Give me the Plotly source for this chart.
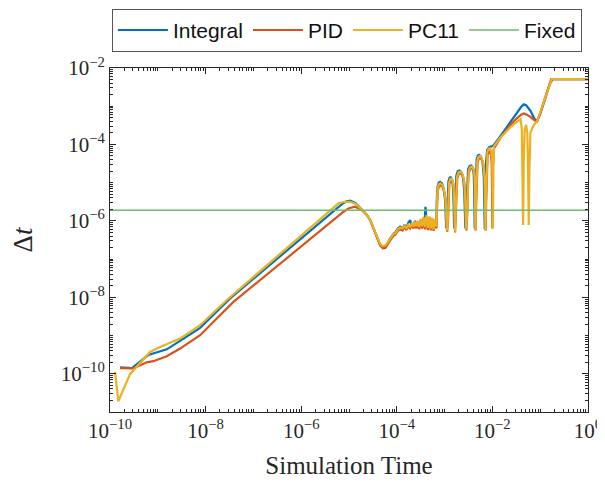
import numpy as np
import plotly.graph_objects as go

# ---- data (log10 of simulation time, log10 of step size) ----
integral_log_t = [-9.79, -9.54, -9.198, -8.813, -8.534, -8.115, -7.487, -5.148, -5.05, -4.974, -4.87, -4.764,
                  -4.655, -4.555, -4.48, -4.415, -4.35, -4.29, -4.24, -4.205, -4.14, -4.067,
                  -4.03, -3.98, -3.93, -3.88, -3.84, -3.80, -3.76, -3.72, -3.69, -3.65, -3.62, -3.59, -3.56,
                  -3.53, -3.50, -3.47, -3.44, -3.42, -3.40, -3.38, -3.35, -3.32, -3.29, -3.26, -3.23, -3.20, -3.17,
                  -3.165, -3.15, -3.125, -3.095, -3.055, -3.02, -2.99, -2.975, -2.965,
                  -2.945, -2.935, -2.92, -2.895, -2.87, -2.845, -2.825, -2.81, -2.80,
                  -2.785, -2.775, -2.755, -2.725, -2.685, -2.645, -2.615, -2.59, -2.575, -2.565,
                  -2.54, -2.53, -2.51, -2.475, -2.44, -2.41, -2.39, -2.38, -2.37,
                  -2.36, -2.35, -2.33, -2.305, -2.275, -2.24, -2.205, -2.18, -2.168, -2.16,
                  -2.15, -2.135, -2.11, -2.07, -2.02,
                  -1.973, -1.832, -1.623, -1.483, -1.40, -1.344, -1.29, -1.204,
                  -1.12, -1.064, -1.00, -0.89, -0.80, -0.74, 0.0]
integral_log_dt = [-9.83, -9.85, -9.51, -9.36, -9.14, -8.80, -8.03, -5.56, -5.49, -5.47, -5.53, -5.66,
                   -5.80, -5.98, -6.20, -6.42, -6.62, -6.69, -6.68, -6.61, -6.46, -6.34,
                   -6.30, -6.20, -6.15, -6.20, -6.10, -6.18, -6.05, -5.98, -6.12, -6.10, -6.00, -6.14, -6.02,
                   -6.15, -5.97, -6.12, -5.92, -6.05, -5.63, -6.00, -6.15, -5.90, -6.18, -5.95, -6.20, -5.97, -6.12,
                   -5.50, -5.12, -5.00, -4.98, -5.02, -5.15, -5.45, -5.90, -6.20,
                   -5.90, -5.30, -4.97, -4.87, -4.86, -4.92, -5.12, -5.60, -6.20,
                   -5.80, -5.20, -4.82, -4.70, -4.68, -4.73, -4.87, -5.20, -5.70, -6.20,
                   -5.70, -5.00, -4.65, -4.56, -4.55, -4.61, -4.78, -5.30, -6.20,
                   -5.60, -4.80, -4.39, -4.29, -4.27, -4.32, -4.47, -4.85, -5.50, -6.22,
                   -5.20, -4.50, -4.15, -4.07, -4.05,
                   -4.02, -3.78, -3.41, -3.19, -3.02, -2.95, -2.98, -3.12,
                   -3.33, -3.39, -3.20, -2.78, -2.42, -2.29, -2.29]

pid_log_t = [-9.79, -9.512, -9.231, -9.093, -8.813, -8.534, -8.115, -7.418, -5.114, -5.0, -4.869, -4.729,
             -4.62, -4.555, -4.48, -4.415, -4.35, -4.29, -4.24, -4.205, -4.14, -4.067,
             -4.03, -3.98, -3.93, -3.88, -3.84, -3.80, -3.76, -3.72, -3.68, -3.65, -3.62, -3.59, -3.56,
             -3.53, -3.50, -3.47, -3.44, -3.41, -3.38, -3.35, -3.32, -3.29, -3.26, -3.23, -3.20, -3.17,
             -3.155, -3.14, -3.115, -3.085, -3.045, -3.005, -2.975, -2.955, -2.945,
             -2.925, -2.915, -2.90, -2.875, -2.85, -2.825, -2.805, -2.79, -2.78,
             -2.765, -2.755, -2.735, -2.705, -2.665, -2.625, -2.595, -2.57, -2.555, -2.545,
             -2.52, -2.51, -2.49, -2.455, -2.42, -2.39, -2.37, -2.36, -2.35,
             -2.34, -2.33, -2.31, -2.285, -2.255, -2.22, -2.185, -2.16, -2.148, -2.14,
             -2.13, -2.12, -2.10, -2.075, -2.05, -2.03, -2.015, -2.007, -2.0, -1.99,
             -1.973, -1.832, -1.623, -1.483, -1.40, -1.344, -1.28, -1.204, -1.12, -1.064,
             -1.00, -0.89, -0.80, -0.77, 0.0]
pid_log_dt = [-9.85, -9.86, -9.70, -9.67, -9.54, -9.34, -8.99, -8.12, -5.76, -5.67, -5.63, -5.72,
              -5.85, -5.99, -6.22, -6.44, -6.64, -6.72, -6.71, -6.64, -6.50, -6.38,
              -6.36, -6.26, -6.22, -6.25, -6.16, -6.24, -6.14, -6.20, -6.10, -6.20, -6.08, -6.20, -6.05,
              -6.22, -6.00, -6.20, -5.96, -6.22, -5.92, -6.24, -5.94, -6.25, -5.97, -6.26, -6.00, -6.20,
              -5.55, -5.20, -5.09, -5.07, -5.11, -5.25, -5.50, -5.95, -6.28,
              -5.90, -5.30, -5.04, -4.94, -4.93, -4.99, -5.20, -5.65, -6.30,
              -5.80, -5.20, -4.89, -4.77, -4.75, -4.80, -4.94, -5.25, -5.75, -6.25,
              -5.70, -5.00, -4.72, -4.63, -4.62, -4.68, -4.85, -5.35, -6.25,
              -5.60, -4.85, -4.47, -4.37, -4.35, -4.40, -4.55, -4.90, -5.50, -6.25,
              -5.50, -4.65, -4.27, -4.19, -4.18, -4.26, -4.50, -5.20, -6.20, -4.60,
              -4.12, -3.83, -3.49, -3.31, -3.22, -3.19, -3.22, -3.28, -3.37, -3.39,
              -3.18, -2.75, -2.41, -2.29, -2.29]

pc11_log_t = [-9.895, -9.826, -9.581, -9.162, -8.953, -8.534, -8.115, -7.556, -5.219, -5.10, -4.974, -4.87,
              -4.764, -4.655, -4.555, -4.48, -4.415, -4.35, -4.30, -4.25, -4.205, -4.14, -4.067,
              -4.03, -3.98, -3.93, -3.88, -3.84, -3.80, -3.76, -3.72, -3.68, -3.65, -3.62, -3.59, -3.56,
              -3.53, -3.50, -3.47, -3.44, -3.41, -3.38, -3.35, -3.32, -3.29, -3.26, -3.23, -3.20, -3.17,
              -3.16, -3.145, -3.12, -3.09, -3.05, -3.01, -2.98, -2.96, -2.95,
              -2.93, -2.92, -2.905, -2.88, -2.855, -2.83, -2.81, -2.795, -2.785,
              -2.77, -2.76, -2.74, -2.71, -2.67, -2.63, -2.60, -2.575, -2.56, -2.55,
              -2.525, -2.515, -2.495, -2.46, -2.425, -2.395, -2.375, -2.365, -2.355,
              -2.345, -2.335, -2.315, -2.29, -2.26, -2.225, -2.19, -2.165, -2.152, -2.145,
              -2.135, -2.125, -2.105, -2.08, -2.05, -2.025, -2.005, -1.995, -1.988, -1.978,
              -1.969, -1.832, -1.623, -1.47, -1.41, -1.385, -1.37, -1.358, -1.345, -1.325, -1.295,
              -1.27, -1.255, -1.24, -1.225, -1.205, -1.17, -1.12, -1.064,
              -0.98, -0.89, -0.80, -0.76, 0.0]
pc11_log_dt = [-9.95, -10.72, -10.01, -9.43, -9.30, -9.08, -8.73, -8.07, -5.54, -5.50, -5.50, -5.55,
               -5.67, -5.80, -5.98, -6.20, -6.42, -6.60, -6.66, -6.65, -6.59, -6.45, -6.33,
               -6.33, -6.22, -6.18, -6.20, -6.12, -6.19, -6.10, -6.17, -6.05, -6.15, -6.02, -6.14, -6.00,
               -6.16, -5.95, -6.14, -5.90, -6.16, -5.85, -6.18, -5.88, -6.20, -5.92, -6.22, -5.95, -6.15,
               -5.50, -5.15, -5.04, -5.02, -5.06, -5.20, -5.45, -5.90, -6.25,
               -5.90, -5.30, -5.00, -4.90, -4.89, -4.95, -5.15, -5.60, -6.28,
               -5.80, -5.20, -4.85, -4.73, -4.71, -4.76, -4.90, -5.20, -5.70, -6.22,
               -5.70, -5.00, -4.68, -4.59, -4.58, -4.64, -4.80, -5.30, -6.25,
               -5.60, -4.80, -4.42, -4.32, -4.30, -4.35, -4.50, -4.85, -5.50, -6.25,
               -5.50, -4.60, -4.20, -4.11, -4.10, -4.18, -4.45, -5.20, -6.20, -4.60,
               -4.05, -3.82, -3.55, -3.39, -3.34, -3.60, -4.50, -6.11, -4.50, -3.60, -3.49,
               -3.70, -4.60, -6.11, -4.60, -3.70, -3.58, -3.47, -3.39,
               -3.08, -2.73, -2.40, -2.29, -2.29]

fixed_log_t = [-10.0, 0.0]
fixed_log_dt = [-5.72, -5.72]

series_names = ["Integral", "PID", "PC11", "Fixed"]
series_colors = ["#0072BD", "#D95319", "#EDB120", "#6DBB6D"]

x_tick_exps = [-10, -8, -6, -4, -2, 0]
y_tick_exps = [-10, -8, -6, -4, -2]


def sup_label(e):
    return "10<sup>%s</sup>" % (str(e).replace("-", "\u2212"))


def minor_vals(lo, hi, majors):
    vals = []
    for d in range(lo, hi):
        for k in range(1, 10):
            if not (k == 1 and d in majors):
                vals.append(k * 10.0 ** d)
    return vals


fig = go.Figure()
data = [(integral_log_t, integral_log_dt), (pid_log_t, pid_log_dt),
        (pc11_log_t, pc11_log_dt), (fixed_log_t, fixed_log_dt)]
for (lt, ld), name, col in zip(data, series_names, series_colors):
    fig.add_trace(go.Scatter(
        x=10.0 ** np.array(lt), y=10.0 ** np.array(ld), mode="lines", name=name,
        line=dict(color=col, width=1.5 if name == "Fixed" else 2.2)))

axis_col = "#262626"
serif = "Liberation Serif"
common = dict(showline=True, linecolor=axis_col, linewidth=1, mirror="allticks",
              ticks="inside", ticklen=6, tickcolor=axis_col, showgrid=False, zeroline=False,
              automargin=False,
              tickfont=dict(family=serif, size=21, color="#262626"))

fig.update_xaxes(type="log", range=[-10, 0],
                 tickmode="array", tickvals=[10.0 ** e for e in x_tick_exps],
                 ticktext=[sup_label(e) for e in x_tick_exps],
                 minor=dict(ticks="inside", ticklen=3, tickcolor=axis_col, tickmode="array",
                            tickvals=minor_vals(-10, 0, x_tick_exps)),
                 title=dict(text="Simulation Time", font=dict(family=serif, size=25, color="#262626"),
                            standoff=14),
                 **common)
fig.update_yaxes(type="log", range=[-11, -2],
                 tickmode="array", tickvals=[10.0 ** e for e in y_tick_exps],
                 ticktext=[sup_label(e) for e in y_tick_exps],
                 minor=dict(ticks="inside", ticklen=3, tickcolor=axis_col, tickmode="array",
                            tickvals=minor_vals(-11, -2, y_tick_exps)),
                 title=dict(text="\u0394<i>t</i>", font=dict(family=serif, size=27, color="#262626"),
                            standoff=30),
                 **common)

# page body has an 8px default margin, so the figure is 8px smaller on each axis
fig.update_layout(
    width=597, height=477,
    margin=dict(l=102, r=17, t=60, b=73, autoexpand=False),
    paper_bgcolor="white", plot_bgcolor="white",
    legend=dict(orientation="h", x=0.004, xanchor="left", y=1.172, yanchor="top",
                font=dict(family="Liberation Sans", size=21, color="#111111"),
                bordercolor="#555555", borderwidth=1, bgcolor="white",
                itemwidth=50, tracegroupgap=0),
    showlegend=True,
)

fig.write_html("out.html")
